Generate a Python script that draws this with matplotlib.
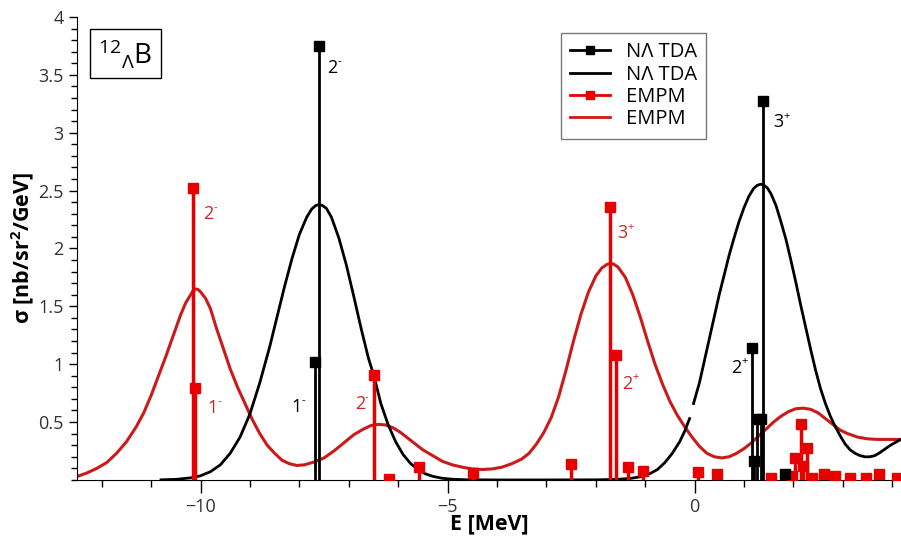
import matplotlib
matplotlib.use("Agg")
import matplotlib.pyplot as plt
from matplotlib.lines import Line2D
from matplotlib.ticker import MultipleLocator

plt.rcParams['font.family'] = ['Open Sans', 'DejaVu Sans']
plt.rcParams['mathtext.fontset'] = 'custom'
plt.rcParams['mathtext.rm'] = 'Open Sans'
plt.rcParams['mathtext.it'] = 'Open Sans'
plt.rcParams['mathtext.bf'] = 'Open Sans:bold'

# stick strengths (NΛ TDA)
tda_E = [-7.69, -7.60, 1.17, 1.20, 1.27, 1.35, 1.38, 1.83]
tda_S = [1.02, 3.75, 1.14, 0.16, 0.53, 0.53, 3.27, 0.05]

# stick strengths (EMPM)
empm_E = [-10.16, -10.11, -6.49, -6.19, -5.57, -4.48, -2.50, -1.71, -1.58, -1.34,
          -1.04, 0.08, 0.45, 1.54, 1.97, 2.04, 2.16, 2.20, 2.28, 2.38, 2.62, 2.85,
          3.15, 3.48, 3.73, 4.09]
empm_S = [2.52, 0.79, 0.91, 0.01, 0.11, 0.06, 0.14, 2.36, 1.08, 0.11,
          0.08, 0.065, 0.05, 0.015, 0.03, 0.19, 0.48, 0.12, 0.28, 0.02, 0.05, 0.03,
          0.015, 0.015, 0.05, 0.02]

# folded NΛ TDA curve, drawn in two pieces (there is a small jump near E = 0)
tda_curve1_E = [-10.8, -10.5, -10.2, -10.0, -9.8, -9.6, -9.4, -9.2, -9.0, -8.8, -8.6,
                -8.45, -8.3, -8.15, -8.0, -7.85, -7.75, -7.67, -7.6, -7.53, -7.45,
                -7.35, -7.2, -7.05, -6.9, -6.75, -6.6, -6.49, -6.35, -6.2, -6.05, -5.9,
                -5.75, -5.6, -5.45, -5.3, -5.1, -4.9, -4.6, -4.0, -3.0, -2.0, -1.6,
                -1.3, -1.1, -0.9, -0.75, -0.6, -0.45, -0.3, -0.2, -0.1]
tda_curve1_S = [0.001, 0.005, 0.018, 0.036, 0.071, 0.13, 0.23, 0.37, 0.57, 0.84, 1.15,
                1.41, 1.67, 1.91, 2.12, 2.27, 2.34, 2.37, 2.38, 2.37, 2.345,
                2.27, 2.09, 1.86, 1.59, 1.31, 1.05, 0.90, 0.66, 0.475, 0.33, 0.22,
                0.143, 0.089, 0.053, 0.031, 0.014, 0.006, 0.001, 0.0, 0.0, 0.001, 0.004,
                0.013, 0.027, 0.055, 0.09, 0.15, 0.23, 0.33, 0.42, 0.53]
tda_curve2_E = [-0.02, 0.1, 0.2, 0.3, 0.4, 0.5, 0.6, 0.7, 0.8, 0.9, 1.0, 1.1, 1.2, 1.27,
                1.34, 1.41, 1.48, 1.55, 1.65, 1.75, 1.85, 1.95, 2.05, 2.15, 2.25, 2.35,
                2.45, 2.55, 2.65, 2.75, 2.85, 2.95, 3.05, 3.15, 3.25, 3.35, 3.45, 3.55,
                3.65, 3.75, 3.85, 3.95, 4.05, 4.2]
tda_curve2_S = [0.66, 0.84, 1.03, 1.22, 1.41, 1.60, 1.77, 1.94, 2.09, 2.23, 2.35, 2.45,
                2.52, 2.545, 2.555, 2.545, 2.52, 2.47, 2.37, 2.23, 2.08, 1.90, 1.71, 1.51,
                1.32, 1.13, 0.95, 0.79, 0.66, 0.55, 0.46, 0.38, 0.31, 0.26, 0.23, 0.21,
                0.20, 0.20, 0.21, 0.235, 0.265, 0.295, 0.32, 0.355]

# folded EMPM curve
empm_curve_E = [-12.5, -12.3, -12.1, -11.9, -11.7, -11.5, -11.3, -11.15, -11.0, -10.85,
                -10.7, -10.6, -10.5, -10.4, -10.3, -10.2, -10.15, -10.1, -10.05, -10.0,
                -9.9, -9.8, -9.67, -9.55, -9.4, -9.25, -9.1, -8.95, -8.8, -8.65, -8.5,
                -8.35, -8.2, -8.05, -7.9, -7.7, -7.5, -7.3, -7.1, -6.9, -6.7, -6.55,
                -6.4, -6.25, -6.1, -5.95, -5.8, -5.65, -5.5, -5.3, -5.1, -4.9, -4.7,
                -4.5, -4.3, -4.1, -3.9, -3.7, -3.5, -3.35, -3.2, -3.05, -2.9, -2.75,
                -2.6, -2.45, -2.3, -2.15, -2.0, -1.88, -1.78, -1.71, -1.64, -1.55,
                -1.4, -1.25, -1.1, -0.95, -0.8, -0.65, -0.5, -0.35, -0.2, -0.05, 0.1,
                0.25, 0.4, 0.55, 0.7, 0.85, 1.0, 1.15, 1.3, 1.45, 1.6, 1.75, 1.9, 2.05,
                2.2, 2.35, 2.5, 2.65, 2.8, 2.95, 3.1, 3.3, 3.5, 3.7, 3.9, 4.2]
empm_curve_S = [0.03, 0.06, 0.10, 0.15, 0.23, 0.33, 0.46, 0.58, 0.73, 0.90,
                1.07, 1.19, 1.31, 1.43, 1.53, 1.60, 1.635, 1.65, 1.645, 1.625,
                1.57, 1.48, 1.30, 1.15, 0.96, 0.80, 0.66, 0.52, 0.40, 0.30, 0.23,
                0.17, 0.14, 0.125, 0.13, 0.155, 0.19, 0.25, 0.32, 0.39, 0.44, 0.47,
                0.48, 0.475, 0.45, 0.41, 0.36, 0.31, 0.26, 0.21, 0.16, 0.13, 0.11,
                0.095, 0.09, 0.095, 0.11, 0.14, 0.18, 0.23, 0.31, 0.41, 0.54, 0.72,
                0.95, 1.20, 1.43, 1.62, 1.76, 1.83, 1.86, 1.87, 1.865, 1.84,
                1.75, 1.60, 1.41, 1.20, 1.00, 0.83, 0.68, 0.56, 0.46, 0.37, 0.29,
                0.23, 0.20, 0.19, 0.20, 0.23, 0.27, 0.32, 0.38, 0.44, 0.50, 0.55, 0.59, 0.615,
                0.62, 0.61, 0.58, 0.53, 0.48, 0.43, 0.40, 0.37, 0.355, 0.35, 0.35, 0.35]

# state labels (left edge position)
lab_E = [-7.44, -8.17, -9.95, -9.87, -6.88, -1.57, -1.47, 1.59, 0.74]
lab_S = [3.56, 0.63, 2.30, 0.62, 0.66, 2.13, 0.83, 3.09, 0.97]
lab_N = ['2', '1', '2', '1', '2', '3', '2', '3', '2']
lab_P = ['-', '-', '-', '-', '-', '+', '+', '+', '+']
lab_C = ['k', 'k', 'r', 'r', 'r', 'r', 'r', 'k', 'k']

red_stick = '#e80000'
red_curve = '#cc1a1a'
red_text = '#c82828'

fig = plt.figure(figsize=(9.01, 5.46), dpi=100)
ax = fig.add_axes([0.0855, 0.121, 0.9145, 0.848])

ax.plot(empm_curve_E, empm_curve_S, color=red_curve, lw=2.2, zorder=2)
ax.plot(tda_curve1_E, tda_curve1_S, color='k', lw=2.0, zorder=3)
ax.plot(tda_curve2_E, tda_curve2_S, color='k', lw=2.0, zorder=3)

ax.vlines(empm_E, 0, empm_S, color=red_stick, lw=2.5, zorder=4)
ax.plot(empm_E, empm_S, 's', color=red_stick, ms=7, zorder=4)
ax.vlines(tda_E, 0, tda_S, color='k', lw=2.0, zorder=5)
ax.plot(tda_E, tda_S, 's', color='k', ms=6.5, zorder=5)

for x, y, n, p, c in zip(lab_E, lab_S, lab_N, lab_P, lab_C):
    col = 'k' if c == 'k' else red_text
    ax.annotate(n, xy=(x, y), xytext=(0, 0), textcoords='offset points', color=col,
                fontsize=13, ha='left', va='center', zorder=6)
    ax.annotate(p, xy=(x, y), xytext=(7.4, 4.5), textcoords='offset points', color=col,
                fontsize=8, ha='left', va='center', zorder=6)

ax.set_xlim(-12.5, 4.18)
ax.set_ylim(0, 4)
ax.xaxis.set_major_locator(MultipleLocator(5))
ax.xaxis.set_minor_locator(MultipleLocator(1))
ax.yaxis.set_minor_locator(MultipleLocator(0.1))
yt = [0.5, 1, 1.5, 2, 2.5, 3, 3.5, 4]
ax.set_yticks(yt)
ax.set_yticklabels([('%g' % v) for v in yt])
ax.tick_params(which='major', direction='out', labelsize=13, labelcolor='#333333')
ax.tick_params(axis='x', which='major', length=9, width=1, pad=4)
ax.tick_params(axis='x', which='minor', length=5, width=1)
ax.tick_params(axis='y', which='major', length=6, width=1)
ax.tick_params(axis='y', which='minor', length=4, width=1)
for s in ['top', 'right']:
    ax.spines[s].set_visible(False)

ax.set_xlabel('E [MeV]', fontsize=15.5, fontweight='bold')
ax.set_ylabel(r'σ [nb/sr$^{\mathbf{2}}$/GeV]', fontsize=15.5, fontweight='bold')
ax.xaxis.set_label_coords(0.5, -0.072)
ax.yaxis.set_label_coords(-0.049, 0.5)

ax.text(0.059, 0.921, r'$^{12}{}_{\Lambda}$B', transform=ax.transAxes, fontsize=20,
        ha='center', va='center',
        bbox=dict(boxstyle='square,pad=0.3', fc='white', ec='k', lw=1))

handles = [Line2D([], [], color='k', marker='s', lw=2, ms=6),
           Line2D([], [], color='k', lw=2),
           Line2D([], [], color=red_stick, marker='s', lw=2, ms=6),
           Line2D([], [], color=red_curve, lw=2)]
labels = ['NΛ TDA', 'NΛ TDA', 'EMPM', 'EMPM']
leg = ax.legend(handles, labels, loc='upper left', bbox_to_anchor=(0.587, 0.965),
                fontsize=14.5, frameon=True, fancybox=False, edgecolor='#555555',
                borderaxespad=0, handlelength=2.0, labelspacing=0.12, borderpad=0.45)
leg.get_frame().set_linewidth(1)

fig.savefig('out.png', dpi=100)
